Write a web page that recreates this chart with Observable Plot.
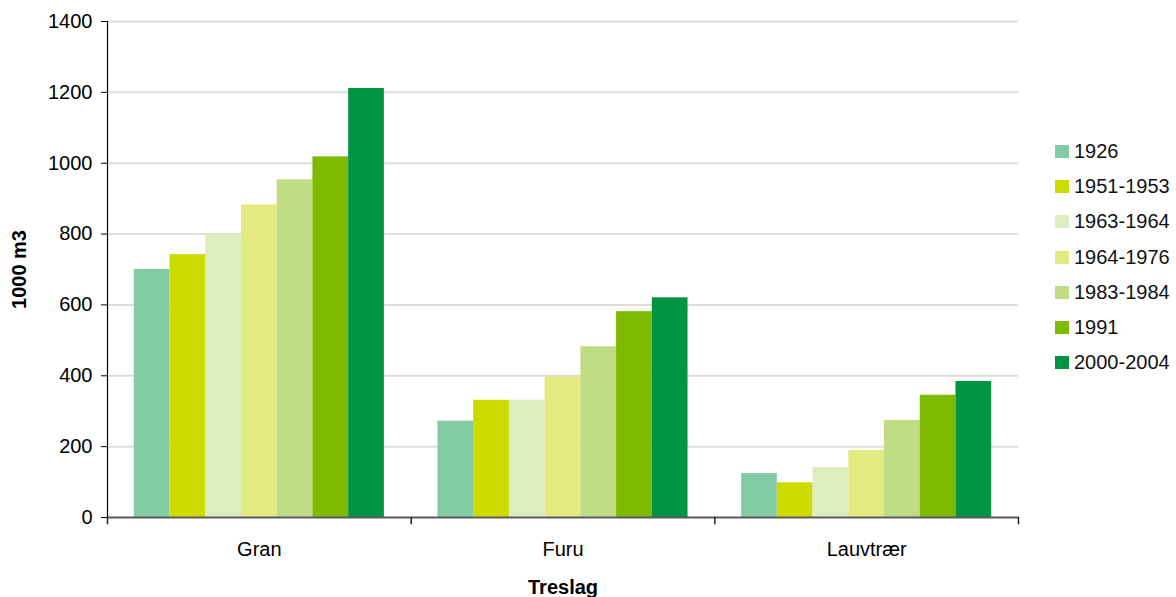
<!DOCTYPE html>
<html>
<head>
<meta charset="utf-8">
<script src="https://cdn.jsdelivr.net/npm/d3@7"></script>
<script src="https://cdn.jsdelivr.net/npm/@observablehq/plot@0.6"></script>
<style>
  body { margin: 0; background: #fff; }
  #chart { position: relative; width: 1176px; height: 597px; font-family: "Liberation Sans", Arial, sans-serif; }
  #chart svg { position: absolute; left: 0; top: 0; }
  #chart g[aria-label="y-axis label"] text,
  #chart g[aria-label="fx-axis label"] text { font-weight: bold; }
  #legend { position: absolute; left: 1055px; top: 134px; }
  #legend .item { display: flex; align-items: center; height: 35.2px; font-size: 20px; color: #111; }
  #legend .sw { width: 14px; height: 13px; margin-right: 5px; }
</style>
</head>
<body>
<div id="chart"></div>
<script>
// Tree species (groups) and inventory periods (series)
const species = ["Gran", "Furu", "Lauvtrær"];
const periods = ["1926", "1951-1953", "1963-1964", "1964-1976", "1983-1984", "1991", "2000-2004"];
const periodColors = ["#82cba4", "#ccdc00", "#deedc0", "#e3ea80", "#c0dc85", "#7eba00", "#009444"];

// Standing volume, 1000 m3, one value per period
const gran = [700, 742, 800, 882, 953, 1018, 1211];
const furu = [272, 331, 331, 397, 482, 581, 620];
const lauvtraer = [124, 98, 141, 189, 274, 345, 384];

const yTicks = [0, 200, 400, 600, 800, 1000, 1200, 1400];

const rows = [gran, furu, lauvtraer].flatMap((values, i) =>
  values.map((v, j) => ({ treslag: species[i], periode: periods[j], volum: v }))
);

const font = '"Liberation Sans", Arial, sans-serif';

const chart = Plot.plot({
  width: 1176,
  height: 597,
  marginLeft: 107,
  marginRight: 158,
  marginTop: 21,
  marginBottom: 80,
  style: { fontFamily: font, fontSize: "20px", color: "#000", background: "#fff", overflow: "visible" },
  fx: { domain: species, padding: 0, round: false },
  x: { domain: periods, paddingInner: 0, paddingOuter: 0.75, round: false, axis: null },
  y: { domain: [0, 1400] },
  color: { domain: periods, range: periodColors },
  marks: [
    Plot.gridY(yTicks.filter((d) => d > 0), { stroke: "#deded6", strokeWidth: 2, strokeOpacity: 1 }),
    Plot.barY(rows, { fx: "treslag", x: "periode", y: "volum", fill: "periode" }),
    Plot.ruleY([0], { stroke: "#5a5a5a", strokeWidth: 2 }),
    // vertical axis line
    Plot.frame({ anchor: "left", facetAnchor: "left", stroke: "#000", strokeWidth: 1.2 }),
    // category separator ticks below the baseline
    Plot.frame({ anchor: "left", insetTop: 496, insetBottom: -6, stroke: "#222", strokeWidth: 1.5 }),
    Plot.frame({ anchor: "right", facetAnchor: "right", insetTop: 496, insetBottom: -6, stroke: "#222", strokeWidth: 1.5 }),
    Plot.axisY({
      ticks: yTicks,
      tickFormat: d3.format("d"),
      tickSize: 6,
      tickPadding: 9,
      stroke: "#000",
      label: "1000 m3",
      labelAnchor: "center",
      labelArrow: "none",
      labelOffset: 96
    }),
    Plot.axisFx({
      anchor: "bottom",
      tickSize: 0,
      tickPadding: 24,
      label: "Treslag",
      labelAnchor: "center",
      labelArrow: "none",
      labelOffset: 76
    })
  ]
});

const host = document.getElementById("chart");
host.appendChild(chart);

// Legend: one swatch per period, stacked on the right
const legend = document.createElement("div");
legend.id = "legend";
periods.forEach((p, i) => {
  const item = document.createElement("div");
  item.className = "item";
  const sw = document.createElement("span");
  sw.className = "sw";
  sw.style.background = periodColors[i];
  const label = document.createElement("span");
  label.textContent = p;
  item.appendChild(sw);
  item.appendChild(label);
  legend.appendChild(item);
});
host.appendChild(legend);
</script>
</body>
</html>
